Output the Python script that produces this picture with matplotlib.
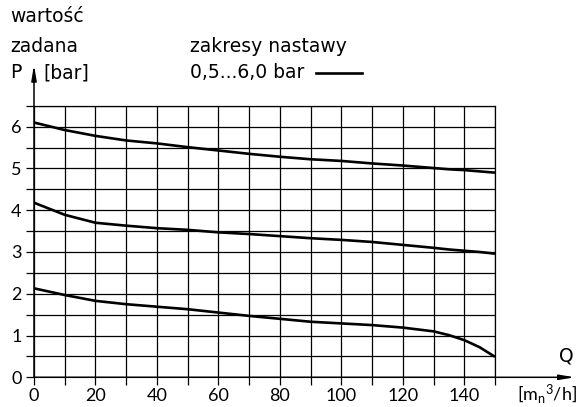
import matplotlib
matplotlib.use("Agg")
import matplotlib.pyplot as plt
from matplotlib.ticker import MultipleLocator

plt.rcParams['font.family'] = ['Lato', 'DejaVu Sans']
plt.rcParams['mathtext.default'] = 'regular'

# dane
q = [0, 10, 20, 30, 40, 50, 60, 70, 80, 90, 100, 110, 120, 130, 135, 140, 145, 150]
p_gorna = [6.10, 5.92, 5.78, 5.67, 5.60, 5.51, 5.43, 5.35, 5.28, 5.22, 5.18, 5.12, 5.07, 5.01, 4.98, 4.96, 4.93, 4.90]
p_srodek = [4.18, 3.89, 3.70, 3.63, 3.57, 3.53, 3.47, 3.43, 3.38, 3.33, 3.29, 3.24, 3.17, 3.10, 3.06, 3.03, 3.00, 2.96]
p_dolna = [2.13, 1.97, 1.83, 1.75, 1.69, 1.63, 1.55, 1.47, 1.40, 1.33, 1.29, 1.25, 1.19, 1.10, 1.01, 0.89, 0.72, 0.49]

x_ticks = [0, 20, 40, 60, 80, 100, 120, 140]
y_ticks = [0, 1, 2, 3, 4, 5, 6]

W, H = 580, 407
fig = plt.figure(figsize=(W / 100, H / 100), dpi=100)
ax = fig.add_axes([34 / W, 1 - 377.3 / H, (495 - 34) / W, (377.3 - 105.8) / H])

for p in (p_gorna, p_srodek, p_dolna):
    ax.plot(q, p, color='black', lw=1.9, solid_capstyle='butt', solid_joinstyle='round', zorder=3)

ax.set_xlim(0, 150)
ax.set_ylim(0, 6.5)
ax.set_xticks(x_ticks)
ax.set_yticks(y_ticks)
ax.xaxis.set_minor_locator(MultipleLocator(10))
ax.yaxis.set_minor_locator(MultipleLocator(0.5))
ax.grid(which='both', color='black', lw=0.9)
ax.tick_params(which='both', direction='out', length=6, width=0.9, colors='black',
               labelsize=13, top=False, right=False)
ax.tick_params(axis='x', pad=2)
ax.tick_params(axis='y', pad=3)
for s in ('left', 'bottom'):
    ax.spines[s].set_visible(False)
for s in ('top', 'right'):
    ax.spines[s].set_linewidth(0.9)

# osie ze strzałkami
ax.annotate('', xy=(176, 0), xytext=(0, 0), annotation_clip=False,
            arrowprops=dict(arrowstyle='-|>,head_length=0.9,head_width=0.15', color='black', lw=1.1,
                            shrinkA=0, shrinkB=0))
ax.annotate('', xy=(0, 7.48), xytext=(0, 0), annotation_clip=False,
            arrowprops=dict(arrowstyle='-|>,head_length=0.9,head_width=0.15', color='black', lw=1.1,
                            shrinkA=0, shrinkB=0))

fs = 13.5
lab = ['DejaVu Sans']
fig.text(10 / W, 1 - 17 / H, 'wartość', fontsize=fs, va='center', family=lab)
fig.text(10 / W, 1 - 46 / H, 'zadana', fontsize=fs, va='center', family=lab)
fig.text(10 / W, 1 - 73 / H, 'P', fontsize=fs, va='center', family=lab)
fig.text(43 / W, 1 - 73 / H, '[bar]', fontsize=fs, va='center', family=lab)
fig.text(190 / W, 1 - 46 / H, 'zakresy nastawy', fontsize=fs, va='center', family=lab)
fig.text(190 / W, 1 - 73 / H, '0,5...6,0 bar', fontsize=fs, va='center', family=lab)
fig.add_artist(plt.Line2D([316 / W, 362 / W], [1 - 73 / H, 1 - 73 / H], color='black', lw=1.9))
fig.text(566 / W, 1 - 356 / H, 'Q', fontsize=fs, va='center', ha='center', family=lab)
fig.text(577 / W, 1 - 394 / H, '[m$_n$$^3$/h]', fontsize=13, va='center', ha='right')

fig.savefig('out.png', dpi=100)
